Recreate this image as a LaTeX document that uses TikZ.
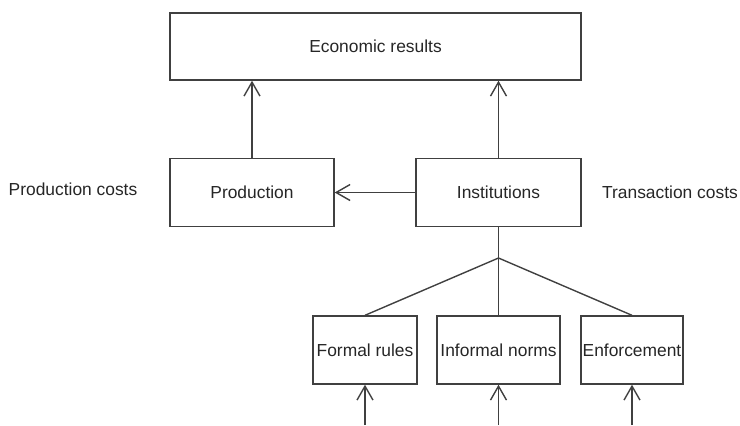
\documentclass[tikz,border=0pt]{standalone}
\usepackage{fontspec}
\setmainfont{Liberation Sans}
\usetikzlibrary{arrows.meta}
\tikzstyle{box} = [draw=black!75, line width=0.7pt, inner sep=0pt, text=black!85, font=\fontsize{8.7}{10}\selectfont]
\tikzstyle{label} = [inner sep=0pt, text=black!85, font=\fontsize{8.7}{10}\selectfont]
\tikzstyle{line} = [draw=black!75, line width=0.7pt, -]
\tikzstyle{arrow} = [draw=black!75, line width=0.7pt, -{Straight Barb[length=7pt, width=8pt, line width=0.7pt]}]

\begin{document}
\begin{tikzpicture}[x=0.5pt, y=-0.5pt]
        \useasboundingbox (0,0) rectangle (740,425);

        \node[box, minimum width=205.5pt, minimum height=33.5pt] (results) at (375.5,46.5) {Economic results};

        \node[box, minimum width=82pt, minimum height=34pt] (production) at (252,192.5) {Production};
        \node[box, minimum width=82.5pt, minimum height=34pt] (institutions) at (498.5,192.5) {Institutions};

        \node[label] (pcosts) at (73,189) {Production costs};
        \node[label] (tcosts) at (670,192) {Transaction costs};

        \node[box, minimum width=52pt, minimum height=34pt] (formal) at (365,350) {Formal rules};
        \node[box, minimum width=61.5pt, minimum height=34pt] (informal) at (498.5,350) {Informal norms};
        \node[box, minimum width=51pt, minimum height=34pt] (enforcement) at (632,350) {Enforcement};

        % Draw Arrows
        \draw[arrow] (production.north) -- (production.north |- results.south);
        \draw[arrow] (institutions.north) -- (institutions.north |- results.south);
        \draw[arrow] (institutions.west) -- (production.east);

        \coordinate (split) at (498.5,258);
        \draw[line] (institutions.south) -- (split);
        \draw[line] (split) -- (formal.north);
        \draw[line] (split) -- (informal.north);
        \draw[line] (split) -- (enforcement.north);

        \coordinate (formalin) at (365,425);
        \coordinate (informalin) at (498.5,425);
        \coordinate (enforcementin) at (632,425);
        \draw[arrow] (formalin) -- (formal.south);
        \draw[arrow] (informalin) -- (informal.south);
        \draw[arrow] (enforcementin) -- (enforcement.south);

    \end{tikzpicture}
\end{document}
